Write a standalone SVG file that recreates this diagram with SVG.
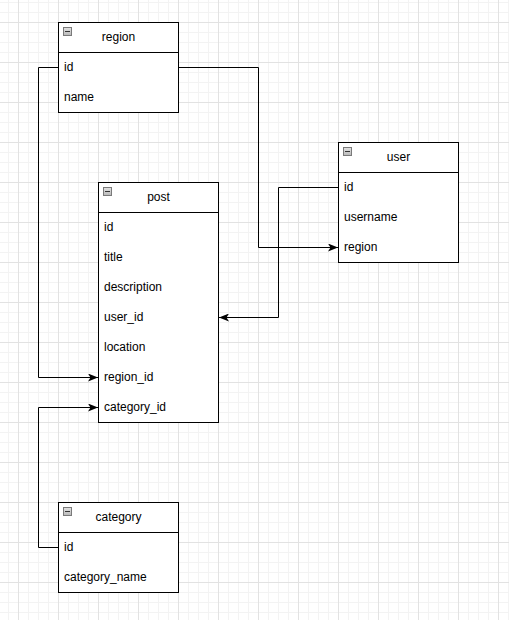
<svg xmlns="http://www.w3.org/2000/svg" width="509" height="620" viewBox="0 0 509 620">
  <style>
    .tbl { fill: #ffffff; stroke: #000000; stroke-width: 1; }
    .div { stroke: #000000; stroke-width: 1; }
    .title { font-family: "Liberation Sans", Arial, sans-serif; font-size: 12px; fill: #000000; text-anchor: middle; }
    .field { font-family: "Liberation Sans", Arial, sans-serif; font-size: 12px; fill: #000000; }
    .link { fill: none; stroke: #000000; stroke-width: 1; }
    .toggle { fill: url(#toggleFill); stroke: #7a7a7a; stroke-width: 1; }
    .toggle-bar { stroke: #333333; stroke-width: 1; }
  </style>
  <defs>
    <pattern id="minorGrid" x="8" y="2" width="10" height="10" patternUnits="userSpaceOnUse">
      <path d="M0.5 0 V10 M0 0.5 H10" stroke="#f3f3f3" stroke-width="1" fill="none"/>
    </pattern>
    <pattern id="majorGrid" x="18" y="22" width="40" height="40" patternUnits="userSpaceOnUse">
      <path d="M0.5 0 V40 M0 0.5 H40" stroke="#e2e2e2" stroke-width="1" fill="none"/>
    </pattern>
    <linearGradient id="toggleFill" x1="0" y1="0" x2="0" y2="1">
      <stop offset="0" stop-color="#e4e4e4"/>
      <stop offset="1" stop-color="#b8b8b8"/>
    </linearGradient>
    <marker id="arrow" viewBox="0 0 10 8" refX="10" refY="4" markerWidth="10" markerHeight="8" markerUnits="userSpaceOnUse" orient="auto">
      <path d="M0 0 L10 4 L0 8 L2.5 4 Z" fill="#000000"/>
    </marker>
  </defs>

  <!-- background grid -->
  <rect width="509" height="620" fill="#ffffff"/>
  <rect width="509" height="620" fill="url(#minorGrid)"/>
  <rect width="509" height="620" fill="url(#majorGrid)"/>

  <!-- relations -->
  <g id="connectors">
    <path class="link" d="M58.5 67.5 H38.5 V377.5 H98" marker-end="url(#arrow)"/>
    <path class="link" d="M178.5 67.5 H258.5 V247.5 H338" marker-end="url(#arrow)"/>
    <path class="link" d="M338.5 187.5 H278.5 V317.5 H219" marker-end="url(#arrow)"/>
    <path class="link" d="M58.5 547.5 H38.5 V407.5 H98" marker-end="url(#arrow)"/>
  </g>

  <!-- region table -->
  <g id="region">
    <rect class="tbl" x="58.5" y="22.5" width="120" height="90"/>
    <line class="div" x1="58.5" y1="52.5" x2="178.5" y2="52.5"/>
    <rect class="toggle" x="63.5" y="27.5" width="8" height="8"/>
    <line class="toggle-bar" x1="65" y1="31.5" x2="70" y2="31.5"/>
    <text class="title" x="118.5" y="41">region</text>
    <text class="field" x="64" y="71">id</text>
    <text class="field" x="64" y="101">name</text>
  </g>

  <!-- user table -->
  <g id="user">
    <rect class="tbl" x="338.5" y="142.5" width="120" height="120"/>
    <line class="div" x1="338.5" y1="172.5" x2="458.5" y2="172.5"/>
    <rect class="toggle" x="343.5" y="147.5" width="8" height="8"/>
    <line class="toggle-bar" x1="345" y1="151.5" x2="350" y2="151.5"/>
    <text class="title" x="398.5" y="161">user</text>
    <text class="field" x="344" y="191">id</text>
    <text class="field" x="344" y="221">username</text>
    <text class="field" x="344" y="251">region</text>
  </g>

  <!-- post table -->
  <g id="post">
    <rect class="tbl" x="98.5" y="182.5" width="120" height="240"/>
    <line class="div" x1="98.5" y1="212.5" x2="218.5" y2="212.5"/>
    <rect class="toggle" x="103.5" y="187.5" width="8" height="8"/>
    <line class="toggle-bar" x1="105" y1="191.5" x2="110" y2="191.5"/>
    <text class="title" x="158.5" y="201">post</text>
    <text class="field" x="104" y="231">id</text>
    <text class="field" x="104" y="261">title</text>
    <text class="field" x="104" y="291">description</text>
    <text class="field" x="104" y="321">user_id</text>
    <text class="field" x="104" y="351">location</text>
    <text class="field" x="104" y="381">region_id</text>
    <text class="field" x="104" y="411">category_id</text>
  </g>

  <!-- category table -->
  <g id="category">
    <rect class="tbl" x="58.5" y="502.5" width="120" height="90"/>
    <line class="div" x1="58.5" y1="532.5" x2="178.5" y2="532.5"/>
    <rect class="toggle" x="63.5" y="507.5" width="8" height="8"/>
    <line class="toggle-bar" x1="65" y1="511.5" x2="70" y2="511.5"/>
    <text class="title" x="118.5" y="521">category</text>
    <text class="field" x="64" y="551">id</text>
    <text class="field" x="64" y="581">category_name</text>
  </g>
</svg>
